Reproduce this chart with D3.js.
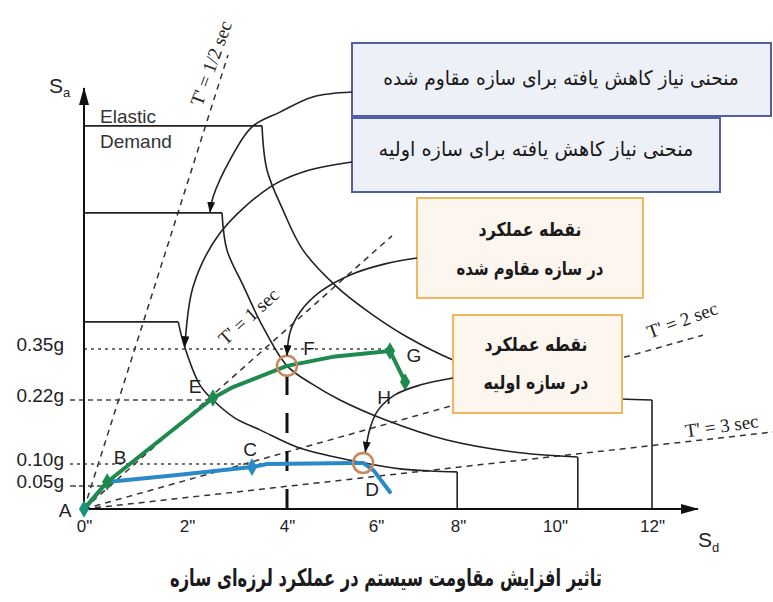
<!DOCTYPE html>
<html><head><meta charset="utf-8">
<script src="https://cdn.jsdelivr.net/npm/d3@7"></script>
<style>body{margin:0;background:#fff} svg{display:block}</style>
</head><body>
<svg id="c" width="773" height="602"></svg>
<script>
// ---------------- data ----------------
const xTickVals = [0, 2, 4, 6, 8, 10, 12];
const xTickLabels = ['0"', '2"', '4"', '6"', '8"', '10"', '12"'];
const yTickVals = [0.05, 0.10, 0.22, 0.35];
const yTickLabels = ['0.05g', '0.10g', '0.22g', '0.35g'];

// demand spectra (Sd in inches, Sa in g): corner of plateau -> end before vertical drop
const elasticDemand = [[3.5,0.835],[3.6,0.739],[3.92,0.652],[4.36,0.565],[5.12,0.485],[5.87,0.428],[6.76,0.376],[7.88,0.322],[8.87,0.281],[10.1,0.245],[11.34,0.223],[12,0.22]];
const reducedStrengthened = [[2.7,0.646],[2.8,0.565],[3.12,0.489],[3.5,0.402],[4.0,0.307],[4.56,0.261],[5.19,0.22],[6.22,0.183],[7.73,0.145],[9.28,0.121],[10.47,0.113]];
const reducedInitial = [[1.83,0.409],[1.94,0.36],[2.26,0.258],[2.52,0.22],[2.96,0.186],[3.46,0.164],[4.22,0.132],[4.97,0.115],[5.73,0.102],[6.59,0.089],[7.32,0.084],[7.98,0.082]];

// named points
const pointNames = ['A','B','C','D','E','F','G','H'];
const pointSd = [0, 0.45, 3.3, 5.71, 2.52, 4.0, 6.34, 6.71];
const pointSa = [0, 0.059, 0.093, 0.102, 0.225, 0.307, 0.345, 0.266];

// capacity curves
const capacityStrengthened = [[0,0],[0.45,0.059],[2.52,0.225],[2.92,0.253],[4.0,0.307],[5.03,0.330],[6.34,0.345],[6.71,0.266]];
const capacityInitial = [[0,0],[0.45,0.059],[1.81,0.075],[3.3,0.093],[3.6,0.100],[5.57,0.102],[5.71,0.102],[5.95,0.085],[6.34,0.037]];

// constant period lines (end points, from origin)
const periodLabels = ["T' = 1/2 sec", "T' = 1 sec", "T' = 2 sec", "T' = 3 sec"];
const periodEnds = [[2.82,0.989],[6.39,0.596],[13.05,0.380],[14.5,0.16]];

// callout arrows (data points after box anchor)
const arrow1 = [[4.58,0.898],[3.86,0.865],[3.3,0.833],[2.86,0.761],[2.52,0.680],[2.46,0.648]];
const arrow2 = [[4.36,0.735],[3.66,0.702],[2.66,0.602],[2.12,0.485],[1.96,0.356]];
const arrow3 = [[6.22,0.535],[5.42,0.511],[4.74,0.474],[4.29,0.430],[4.07,0.387],[4.0,0.334]];
const arrow4 = [[7.07,0.258],[6.46,0.233],[6.05,0.201],[5.87,0.168],[5.76,0.123]];

const boxTexts = ['منحنی نیاز کاهش یافته برای سازه مقاوم شده', 'منحنی نیاز کاهش یافته برای سازه اولیه'];
const perfTexts = [['نقطه عملکرد','در سازه مقاوم شده'], ['نقطه عملکرد','در سازه اولیه']];
const title = 'تاثیر افزایش مقاومت سیستم در عملکرد لرزه‌ای سازه';

// ---------------- layout ----------------
const svg = d3.select('#c');
svg.append('rect').attr('width',773).attr('height',602).attr('fill','#fff');
const x = d3.scaleLinear().domain(xTickVals).range([84,187,287,376,458,555,652]);
const y = d3.scaleLinear().domain([0,0.05,0.10,0.22,0.35,1.0]).range([509,486,464,400,349,50]);
const SANS = 'Liberation Sans, Arial, sans-serif';
const SERIF = 'Liberation Serif, Times New Roman, serif';
const FA = 'DejaVu Sans, Noto Sans, sans-serif';
const P = {}; pointNames.forEach((n,i)=>P[n]=[pointSd[i],pointSa[i]]);

const defs = svg.append('defs');
defs.append('marker').attr('id','ah').attr('viewBox','0 0 11 8').attr('refX',10).attr('refY',4)
  .attr('markerWidth',11).attr('markerHeight',8).attr('markerUnits','userSpaceOnUse').attr('orient','auto')
  .append('path').attr('d','M0,0L11,4L0,8Z').attr('fill','#111');
defs.append('marker').attr('id','axh').attr('viewBox','0 0 18 10').attr('refX',17).attr('refY',5)
  .attr('markerWidth',18).attr('markerHeight',10).attr('markerUnits','userSpaceOnUse').attr('orient','auto')
  .append('path').attr('d','M0,0L18,5L0,10Z').attr('fill','#111');

const line = d3.line().x(d=>x(d[0])).y(d=>y(d[1]));
const smooth = d3.line().x(d=>x(d[0])).y(d=>y(d[1])).curve(d3.curveCatmullRom.alpha(0.5));

// period lines
const g0 = svg.append('g');
periodEnds.forEach(e=>{
  g0.append('path').attr('d', line([[0,0],e])).attr('fill','none').attr('stroke','#333')
    .attr('stroke-width',1.5).attr('stroke-dasharray','6,5');
});

// reference lines for ticks
const refTo = [P.B[0], P.D[0], P.E[0], P.G[0]];
const refDash = ['6,3','3,4','5,4','3,4'];
yTickVals.forEach((v,i)=>{
  const x0 = i===3 ? x(0) : x(0)-14;
  g0.append('line').attr('x1',x0).attr('x2',x(refTo[i])).attr('y1',y(v)).attr('y2',y(v))
    .attr('stroke','#444').attr('stroke-width',1.6).attr('stroke-dasharray',refDash[i]);
});

// demand curves
[elasticDemand, reducedStrengthened, reducedInitial].forEach(c=>{
  const first=c[0], last=c[c.length-1];
  g0.append('path').attr('d', line([[0,first[1]],first])).attr('stroke','#222').attr('stroke-width',1.6).attr('fill','none');
  g0.append('path').attr('d', smooth(c)).attr('stroke','#222').attr('stroke-width',1.6).attr('fill','none');
  g0.append('path').attr('d', line([last,[last[0],0]])).attr('stroke','#222').attr('stroke-width',1.6).attr('fill','none');
});

// vertical dashed at F
g0.append('line').attr('x1',x(P.F[0])).attr('x2',x(P.F[0])).attr('y1',y(0)).attr('y2',y(P.F[1])+10)
  .attr('stroke','#111').attr('stroke-width',3).attr('stroke-dasharray','20,18');

// axes
svg.append('line').attr('x1',x(0)).attr('y1',y(0)).attr('x2',x(0)).attr('y2',88)
  .attr('stroke','#111').attr('stroke-width',2).attr('marker-end','url(#axh)');
svg.append('line').attr('x1',x(0)).attr('y1',y(0)).attr('x2',698).attr('y2',y(0))
  .attr('stroke','#111').attr('stroke-width',2).attr('marker-end','url(#axh)');

const xa = svg.append('g').attr('transform',`translate(0,${y(0)})`)
  .call(d3.axisBottom(x).tickValues(xTickVals).tickFormat((d,i)=>xTickLabels[i]).tickSize(0).tickPadding(11));
xa.select('.domain').remove();
xa.selectAll('text').attr('font-family',SANS).attr('font-size',17).attr('fill','#222');
const ya = svg.append('g').attr('transform',`translate(${x(0)},0)`)
  .call(d3.axisLeft(y).tickValues(yTickVals).tickFormat((d,i)=>yTickLabels[i]).tickSize(0).tickPadding(20));
ya.select('.domain').remove();
ya.selectAll('text').attr('font-family',SANS).attr('font-size',19).attr('fill','#222').attr('dy','0.1em');

// axis titles
const sa = svg.append('text').attr('x',49).attr('y',93).attr('font-family',SANS).attr('font-size',21).attr('fill','#222');
sa.append('tspan').text('S'); sa.append('tspan').attr('font-size',13).attr('dy',4).text('a');
const sd = svg.append('text').attr('x',698).attr('y',547).attr('font-family',SANS).attr('font-size',21).attr('fill','#222');
sd.append('tspan').text('S'); sd.append('tspan').attr('font-size',13).attr('dy',5).text('d');

// Elastic Demand label
svg.append('text').attr('x',100).attr('y',123).attr('font-family',SANS).attr('font-size',19).attr('fill','#333').text('Elastic');
svg.append('text').attr('x',100).attr('y',148).attr('font-family',SANS).attr('font-size',19).attr('fill','#333').text('Demand');

// period labels
const plab = [[213,64,-70],[250,318,-42],[683,322,-20],[722,428,-8]];
periodLabels.forEach((t,i)=>{
  svg.append('text').attr('transform',`translate(${plab[i][0]},${plab[i][1]}) rotate(${plab[i][2]})`)
    .attr('text-anchor','middle').attr('dominant-baseline','middle')
    .attr('font-family',SERIF).attr('font-size',19).attr('fill','#222').text(t);
});

// capacity curves
svg.append('path').attr('d',line(capacityInitial)).attr('fill','none').attr('stroke','#2a8ac6').attr('stroke-width',4).attr('stroke-linejoin','round').attr('stroke-linecap','round');
svg.append('path').attr('d',line(capacityStrengthened)).attr('fill','none').attr('stroke','#1e8a4e').attr('stroke-width',4).attr('stroke-linejoin','round');
const dia = d3.symbol().type(d3.symbolDiamond).size(90);
[['A','#16957c'],['B','#1e8a4e'],['E','#1e8a4e'],['G','#1e8a4e'],['H','#1e8a4e'],['C','#2a8ac6']].forEach(([n,c])=>{
  svg.append('path').attr('d',dia()).attr('fill',c).attr('transform',`translate(${x(P[n][0])},${y(P[n][1])})`);
});
['F','D'].forEach(n=>{
  svg.append('circle').attr('cx',x(P[n][0])).attr('cy',y(P[n][1])).attr('r',10)
    .attr('fill','none').attr('stroke','#c8875c').attr('stroke-width',2.5);
});
// point labels
const labOff = {A:[-19,1],B:[13,-25],C:[-2,-18],D:[9,27],E:[-18,-12],F:[22,-17],G:[24,5],H:[-21,16]};
pointNames.forEach(n=>{
  svg.append('text').attr('x',x(P[n][0])+labOff[n][0]).attr('y',y(P[n][1])+labOff[n][1])
    .attr('text-anchor','middle').attr('dominant-baseline','central')
    .attr('font-family',SANS).attr('font-size',19).attr('fill','#222').text(n);
});

// boxes
const boxes = [
  {x0:352,y0:43,x1:771,y1:116,fill:'#eef0f8',stroke:'#4f5f9f'},
  {x0:352,y0:118,x1:720,y1:192,fill:'#eef0f8',stroke:'#4f5f9f'},
  {x0:417,y0:198,x1:643,y1:298,fill:'#fdf6ee',stroke:'#eeb85e'},
  {x0:453,y0:315,x1:622,y1:413,fill:'#fdf6ee',stroke:'#eeb85e'}
];
boxes.forEach(b=>{
  svg.append('rect').attr('x',b.x0).attr('y',b.y0).attr('width',b.x1-b.x0).attr('height',b.y1-b.y0)
    .attr('fill',b.fill).attr('stroke',b.stroke).attr('stroke-width',2);
});
// text with fixed font size, horizontally scaled to the target width
function faText(txt, cx, cy, fs, target, bold){
  const t = svg.append('text').attr('x',0).attr('y',0).attr('text-anchor','middle').attr('dominant-baseline','middle')
    .attr('direction','rtl').attr('font-family',FA).attr('font-size',fs).attr('fill','#1a1a1a')
    .attr('font-weight', bold ? 'bold' : 'normal').text(txt);
  const w = t.node().getComputedTextLength();
  const sx = w>0 ? target/w : 1;
  t.attr('transform',`translate(${cx},${cy}) scale(${sx},1)`);
  return t;
}
faText(boxTexts[0], 561, 79, 20, 356, false);
faText(boxTexts[1], 536, 150, 20, 315, false);
const perfPos = [[530,231,269,103,147],[536,346,384,103,105]];
perfTexts.forEach((lines,i)=>{
  const p = perfPos[i];
  faText(lines[0], p[0], p[1], 19, p[3], true);
  faText(lines[1], p[0], p[2], 19, p[4], true);
});

// callout arrows
const pxLine = d3.line().curve(d3.curveCatmullRom.alpha(0.5));
[[[352,92],arrow1],[[352,162],arrow2],[[417,258],arrow3],[[453,378],arrow4]].forEach(([s,pts])=>{
  const all = [s].concat(pts.map(d=>[x(d[0]),y(d[1])]));
  svg.append('path').attr('d',pxLine(all)).attr('fill','none').attr('stroke','#222').attr('stroke-width',1.6)
    .attr('marker-end','url(#ah)');
});

// title
faText(title, 386, 579, 24, 432, true);
</script>
</body></html>
